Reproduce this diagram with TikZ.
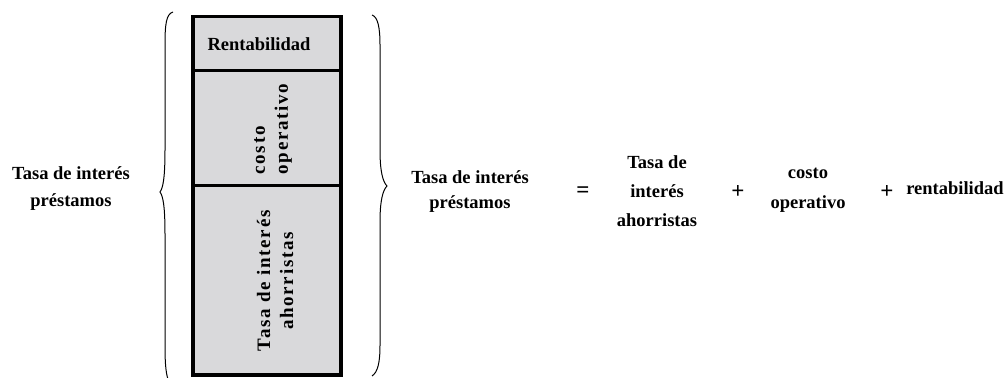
\documentclass[tikz,border=0pt]{standalone}
\usepackage{fontspec}
\setmainfont{Liberation Serif}
\usepackage{xcolor}
\definecolor{boxgray}{RGB}{217,217,219}

\begin{document}
\begin{tikzpicture}[x=1pt,y=-1pt,
  lbl/.style={font=\bfseries\fontsize{18.5}{26}\selectfont, align=center, inner sep=0pt},
  sgn/.style={font=\bfseries\fontsize{23}{26}\selectfont, inner sep=0pt},
  vlbl/.style={font=\bfseries\fontsize{19}{23}\selectfont\addfontfeatures{LetterSpace=9}, rotate=90, inner sep=0pt}]
  \useasboundingbox (0,0) rectangle (1008,377);
  % column with the three parts
  \filldraw[fill=boxgray, line width=3.5pt] (193,16.5) rectangle (341,375);
  \draw[line width=3pt] (193,71) -- (341,71);
  \draw[line width=3pt] (193,185) -- (341,185);
  \node[lbl] (rent) at (259,44) {Rentabilidad};
  \node[vlbl, align=left] (costo) at (273,129) {costo\\operativo};
  \node[vlbl, align=center] (ahorro) at (275,281) {Tasa de interés\\ahorristas};
  % braces
  \draw[line width=1pt] (173,12) .. controls (166,14) and (165,25) .. (165,45) -- (165,150)
    .. controls (165,178) and (163,188) .. (160,192) .. controls (163,196) and (165,206) .. (165,234)
    -- (165,345) .. controls (165,365) and (166,375) .. (169,382);
  \draw[line width=1pt] (372,15) .. controls (378,17) and (380,28) .. (380,45) -- (380,150)
    .. controls (380,172) and (383,182) .. (387,186) .. controls (383,190) and (380,200) .. (380,222)
    -- (380,345) .. controls (380,362) and (378,372) .. (372,376);
  % left label
  \node[lbl, font=\bfseries\fontsize{18.5}{27}\selectfont] (tasaL) at (71,189) {Tasa de interés\\préstamos};
  % equation
  \node[lbl, font=\bfseries\fontsize{18.5}{25}\selectfont] (tasaR) at (470,192) {Tasa de interés\\préstamos};
  \node[sgn] (eq) at (583,192) {=};
  \node[lbl, font=\bfseries\fontsize{18.5}{29}\selectfont] (ahorR) at (657,191) {Tasa de\\interés\\ahorristas};
  \node[sgn] (plusA) at (738,192) {+};
  \node[lbl, font=\bfseries\fontsize{18.5}{30}\selectfont] (costoR) at (808,190) {costo\\operativo};
  \node[sgn] (plusB) at (887,192) {+};
  \node[lbl] (rentR) at (955,188) {rentabilidad};
\end{tikzpicture}
\end{document}
